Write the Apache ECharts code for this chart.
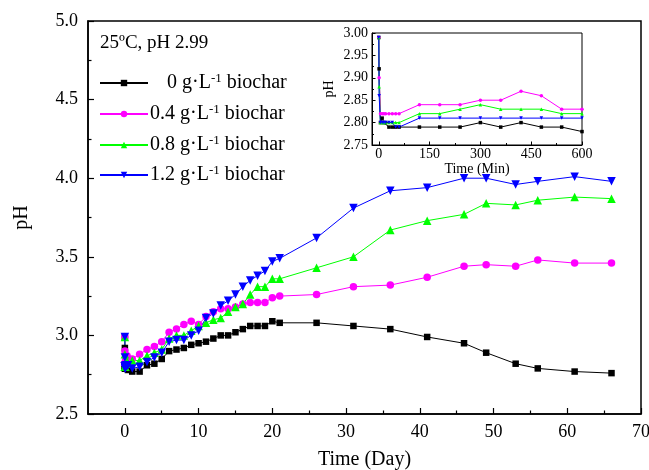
<!DOCTYPE html>
<html>
<head>
<meta charset="utf-8">
<script src="https://cdn.jsdelivr.net/npm/echarts@6/dist/echarts.min.js"></script>
<style>
html, body { margin: 0; padding: 0; background: #ffffff; }
#chart { width: 649px; height: 470px; }
</style>
</head>
<body>
<div id="chart"></div>
<script>
const FONT = '"Liberation Serif", "Times New Roman", serif';

// Readings during the first 10 hours (minutes)
const minuteTimes = [0, 1, 5, 10, 15, 20, 30, 40, 50, 60, 120, 180, 240, 300, 360, 420, 480, 540, 600];
const minBlack = [2.99, 2.92, 2.80, 2.81, 2.80, 2.80, 2.79, 2.79, 2.79, 2.79, 2.79, 2.79, 2.79, 2.80, 2.79, 2.80, 2.79, 2.79, 2.78];
const minPink  = [2.99, 2.90, 2.82, 2.82, 2.82, 2.82, 2.82, 2.82, 2.82, 2.82, 2.84, 2.84, 2.84, 2.85, 2.85, 2.87, 2.86, 2.83, 2.83];
const minGreen = [2.99, 2.88, 2.80, 2.80, 2.80, 2.80, 2.80, 2.80, 2.80, 2.80, 2.82, 2.82, 2.83, 2.84, 2.83, 2.83, 2.83, 2.82, 2.82];
const minBlue  = [2.99, 2.86, 2.80, 2.80, 2.80, 2.80, 2.80, 2.80, 2.79, 2.79, 2.81, 2.81, 2.81, 2.81, 2.81, 2.81, 2.81, 2.81, 2.81];

// Daily readings
const days = [1, 2, 3, 4, 5, 6, 7, 8, 9, 10, 11, 12, 13, 14, 15, 16, 17, 18, 19, 20, 21, 26, 31, 36, 41, 46, 49, 53, 56, 61, 66];
const dayBlack = [2.77, 2.77, 2.81, 2.82, 2.85, 2.90, 2.91, 2.92, 2.94, 2.95, 2.96, 2.98, 3.00, 3.00, 3.02, 3.04, 3.06, 3.06, 3.06, 3.09, 3.08, 3.08, 3.06, 3.04, 2.99, 2.95, 2.89, 2.82, 2.79, 2.77, 2.76];
const dayPink  = [2.85, 2.88, 2.91, 2.93, 2.96, 3.02, 3.04, 3.07, 3.09, 3.07, 3.12, 3.15, 3.17, 3.17, 3.18, 3.20, 3.21, 3.21, 3.21, 3.24, 3.25, 3.26, 3.31, 3.32, 3.37, 3.44, 3.45, 3.44, 3.48, 3.46, 3.46];
const dayGreen = [2.84, 2.84, 2.87, 2.89, 2.91, 2.98, 3.00, 3.00, 3.03, 3.06, 3.08, 3.10, 3.11, 3.15, 3.18, 3.20, 3.26, 3.31, 3.31, 3.36, 3.36, 3.43, 3.50, 3.67, 3.73, 3.77, 3.84, 3.83, 3.86, 3.88, 3.87];
const dayBlue  = [2.79, 2.80, 2.83, 2.86, 2.89, 2.96, 2.97, 2.97, 3.00, 3.03, 3.11, 3.14, 3.19, 3.22, 3.26, 3.31, 3.35, 3.38, 3.41, 3.47, 3.49, 3.62, 3.81, 3.92, 3.94, 4.00, 4.00, 3.96, 3.98, 4.01, 3.98];

const doses = ['0', '0.4', '0.8', '1.2'];
const minuteSets = [minBlack, minPink, minGreen, minBlue];
const daySets = [dayBlack, dayPink, dayGreen, dayBlue];
const colors = ['#000000', '#ff00ff', '#00ff00', '#0000ff'];
const symbols = ['rect', 'circle', 'triangle', 'triangle'];
const symbolRotations = [0, 0, 0, 180];
const mainSymbolSizes = [6.5, 7.5, 8.5, 8.5];

const dayTicks = [0, 10, 20, 30, 40, 50, 60, 70];
const dayMinorTicks = [5, 15, 25, 35, 45, 55, 65];
const minuteTicks = [0, 150, 300, 450, 600];
const minuteMinorTicks = [75, 225, 375, 525];

const legendRowCenters = [83, 114, 145, 175];

const chart = echarts.init(document.getElementById('chart'), null, { renderer: 'canvas' });

const axisLine = { show: true, onZero: false, lineStyle: { color: '#000', width: 1.5 } };

const series = [];
doses.forEach((dose, k) => {
  const mainData = minuteTimes.map((m, i) => [m / 1440, minuteSets[k][i]])
    .concat(days.map((d, i) => [d, daySets[k][i]]));
  series.push({
    name: dose,
    type: 'line',
    xAxisIndex: 0,
    yAxisIndex: 0,
    data: mainData,
    symbol: symbols[k],
    symbolRotate: symbolRotations[k],
    symbolSize: mainSymbolSizes[k],
    showAllSymbol: true,
    lineStyle: { color: colors[k], width: 1 },
    itemStyle: { color: colors[k] },
    emphasis: { disabled: true },
    animation: false
  });
});
doses.forEach((dose, k) => {
  series.push({
    name: dose,
    type: 'line',
    xAxisIndex: 2,
    yAxisIndex: 1,
    data: minuteTimes.map((m, i) => [m, minuteSets[k][i]]),
    symbol: symbols[k],
    symbolRotate: symbolRotations[k],
    symbolSize: 3.5,
    showAllSymbol: true,
    lineStyle: { color: colors[k], width: 1 },
    itemStyle: { color: colors[k] },
    emphasis: { disabled: true },
    animation: false
  });
});

const legends = doses.map((dose, k) => ({
  data: [dose],
  left: 99,
  top: legendRowCenters[k] - 11,
  orient: 'vertical',
  padding: 0,
  itemWidth: 48,
  itemHeight: 8,
  selectedMode: false,
  formatter: name => (name === '0' ? '{z|0}' : '{n|' + name + '}') + '{t| g·L}{s|-1}{t| biochar}',
  textStyle: {
    fontFamily: FONT,
    color: '#000',
    fontSize: 20,
    rich: {
      n: { fontFamily: FONT, fontSize: 20, lineHeight: 22, color: '#000', padding: [0, 0, 0, -3] },
      z: { fontFamily: FONT, fontSize: 20, lineHeight: 22, color: '#000', padding: [0, 0, 0, 14] },
      t: { fontFamily: FONT, fontSize: 20, lineHeight: 22, color: '#000' },
      s: { fontFamily: FONT, fontSize: 13, lineHeight: 12, color: '#000', verticalAlign: 'top' }
    }
  }
}));

chart.setOption({
  backgroundColor: '#ffffff',
  animation: false,
  title: {
    text: '25ºC, pH 2.99',
    left: 100,
    top: 34,
    padding: 0,
    textStyle: { fontFamily: FONT, fontSize: 19, fontWeight: 'normal', color: '#000' }
  },
  legend: legends,
  grid: [
    { left: 88, right: 8, top: 21, bottom: 56, outerBoundsMode: 'none', containLabel: false,
      show: true, borderColor: '#000', borderWidth: 1.5, backgroundColor: '#fff' },
    { left: 372, width: 210, top: 33, height: 112, outerBoundsMode: 'none', containLabel: false,
      show: true, borderColor: '#000', borderWidth: 1, backgroundColor: '#fff' }
  ],
  xAxis: [
    {
      gridIndex: 0, type: 'value', min: -5, max: 70, position: 'bottom',
      name: 'Time (Day)', nameLocation: 'middle', nameGap: 36,
      nameTextStyle: { fontFamily: FONT, fontSize: 20, color: '#000' },
      axisLine: axisLine,
      axisTick: { show: true, inside: true, length: 6, customValues: dayTicks, lineStyle: { color: '#000', width: 1.2 } },
      axisLabel: { show: true, customValues: dayTicks, margin: 9, fontFamily: FONT, fontSize: 18, color: '#000' },
      splitLine: { show: false }
    },
    {
      gridIndex: 0, type: 'value', min: -5, max: 70, position: 'bottom',
      axisLine: { show: false },
      axisTick: { show: true, inside: true, length: 3.5, customValues: dayMinorTicks, lineStyle: { color: '#000', width: 1.2 } },
      axisLabel: { show: false },
      splitLine: { show: false }
    },
    {
      gridIndex: 1, type: 'value', min: -20, max: 600, position: 'bottom',
      name: 'Time (Min)', nameLocation: 'middle', nameGap: 12,
      nameTextStyle: { fontFamily: FONT, fontSize: 14, color: '#000' },
      axisLine: { show: true, onZero: false, lineStyle: { color: '#000', width: 1 } },
      axisTick: { show: true, inside: true, length: 3.5, customValues: minuteTicks, lineStyle: { color: '#000', width: 1 } },
      axisLabel: { show: true, customValues: minuteTicks, margin: 2, fontFamily: FONT, fontSize: 14, color: '#000' },
      splitLine: { show: false }
    },
    {
      gridIndex: 1, type: 'value', min: -20, max: 600, position: 'bottom',
      axisLine: { show: false },
      axisTick: { show: true, inside: true, length: 2, customValues: minuteMinorTicks, lineStyle: { color: '#000', width: 1 } },
      axisLabel: { show: false },
      splitLine: { show: false }
    }
  ],
  yAxis: [
    {
      gridIndex: 0, type: 'value', min: 2.5, max: 5.0, interval: 0.5,
      name: 'pH', nameLocation: 'middle', nameGap: 56,
      nameTextStyle: { fontFamily: FONT, fontSize: 20, color: '#000' },
      axisLine: axisLine,
      axisTick: { show: true, inside: true, length: 6, lineStyle: { color: '#000', width: 1.2 } },
      minorTick: { show: true, splitNumber: 2, length: 3.5, lineStyle: { color: '#000', width: 1.2 } },
      axisLabel: { margin: 10, fontFamily: FONT, fontSize: 18, color: '#000', formatter: v => v.toFixed(1) },
      splitLine: { show: false }
    },
    {
      gridIndex: 1, type: 'value', min: 2.75, max: 3.0, interval: 0.05,
      name: 'pH', nameLocation: 'middle', nameGap: 36,
      nameTextStyle: { fontFamily: FONT, fontSize: 14, color: '#000' },
      axisLine: { show: true, onZero: false, lineStyle: { color: '#000', width: 1 } },
      axisTick: { show: true, inside: true, length: 3.5, lineStyle: { color: '#000', width: 1 } },
      minorTick: { show: true, splitNumber: 2, length: 2, lineStyle: { color: '#000', width: 1 } },
      axisLabel: { margin: 4, fontFamily: FONT, fontSize: 14, color: '#000', formatter: v => v.toFixed(2) },
      splitLine: { show: false }
    }
  ],
  series: series
});
</script>
</body>
</html>
